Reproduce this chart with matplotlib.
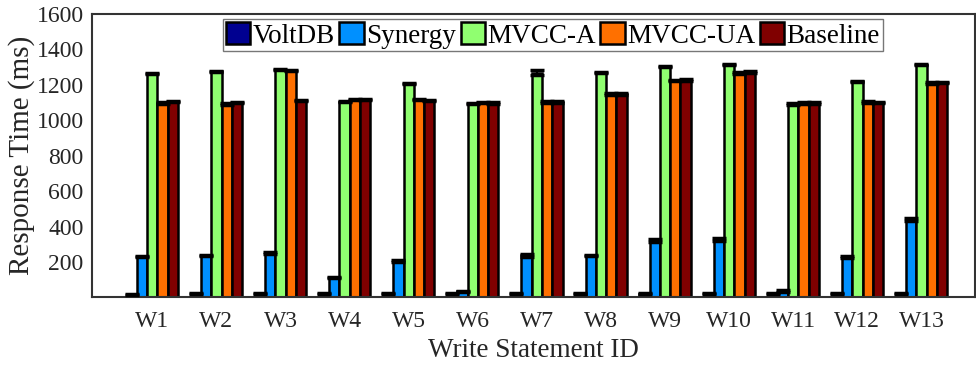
import numpy as np
import matplotlib.pyplot as plt

# Response time per write statement (ms)
stmts = ['W1', 'W2', 'W3', 'W4', 'W5', 'W6', 'W7', 'W8', 'W9', 'W10', 'W11', 'W12', 'W13']
systems = ['VoltDB', 'Synergy', 'MVCC-A', 'MVCC-UA', 'Baseline']

voltdb = [18, 24, 22, 22, 22, 22, 22, 22, 22, 22, 22, 22, 22]
synergy = [230, 236, 250, 112, 206, 35, 238, 236, 322, 328, 37, 229, 440]
mvcc_a = [1262, 1275, 1286, 1104, 1207, 1093, 1268, 1270, 1302, 1313, 1091, 1219, 1313]
mvcc_ua = [1097, 1091, 1279, 1117, 1117, 1100, 1102, 1149, 1224, 1266, 1098, 1102, 1209]
baseline = [1106, 1100, 1111, 1117, 1110, 1098, 1102, 1147, 1228, 1273, 1096, 1100, 1213]

voltdb_err = [4, 4, 4, 4, 4, 4, 4, 4, 4, 4, 4, 4, 4]
synergy_err = [4, 4, 4, 4, 4, 4, 10, 4, 8, 10, 4, 4, 10]
mvcc_a_err = [4, 4, 4, 4, 4, 4, 14, 4, 4, 4, 4, 4, 4]
mvcc_ua_err = [4, 4, 4, 4, 4, 4, 4, 4, 4, 4, 4, 4, 4]
baseline_err = [4, 4, 4, 4, 4, 4, 4, 4, 4, 4, 4, 4, 4]

colors = ['#000090', '#0090FF', '#90FF70', '#FF7000', '#800000']

plt.rcParams['font.family'] = ['Liberation Serif', 'DejaVu Serif']

fig = plt.figure(figsize=(9.76, 3.65), dpi=100)
ax = fig.add_axes([0.0943, 0.185, 0.905, 0.777])

x = np.arange(1, len(stmts) + 1)
w = 0.16
data = [voltdb, synergy, mvcc_a, mvcc_ua, baseline]
errs = [voltdb_err, synergy_err, mvcc_a_err, mvcc_ua_err, baseline_err]
for i, (vals, err) in enumerate(zip(data, errs)):
    pos = x + (i - 2) * w
    ax.bar(pos, vals, w, color=colors[i], edgecolor='black', linewidth=1.8,
           label=systems[i], zorder=2)
    ax.errorbar(pos, vals, yerr=err, fmt='none', ecolor='black', elinewidth=1.5,
                capsize=5, capthick=2.5, zorder=3)

ax.set_xlim(0.06, 13.84)
ax.set_ylim(0, 1600)
ax.set_xticks(x)
ax.set_xticklabels(stmts)
ax.set_yticks(np.arange(200, 1601, 200))
ax.tick_params(axis='both', labelsize=17, colors='#262626', length=0)
ax.tick_params(axis='x', pad=10)
ax.tick_params(axis='y', pad=6)
ax.set_xlabel('Write Statement ID', fontsize=19.5, color='#262626', labelpad=4)
ax.set_ylabel('Response Time (ms)', fontsize=21, color='#262626', labelpad=1)
for s in ax.spines.values():
    s.set_color('#333333')
    s.set_linewidth(1.5)

leg = ax.legend(loc='upper center', ncol=5, fontsize=19.5, frameon=True, fancybox=False,
                edgecolor='#555555', handlelength=0.9, handleheight=0.9,
                handletextpad=0.1, columnspacing=0.15, borderpad=0.1,
                borderaxespad=0.2, bbox_to_anchor=(0.522, 1.0))
leg.get_frame().set_linewidth(1.0)

fig.savefig('out.png', dpi=100)
